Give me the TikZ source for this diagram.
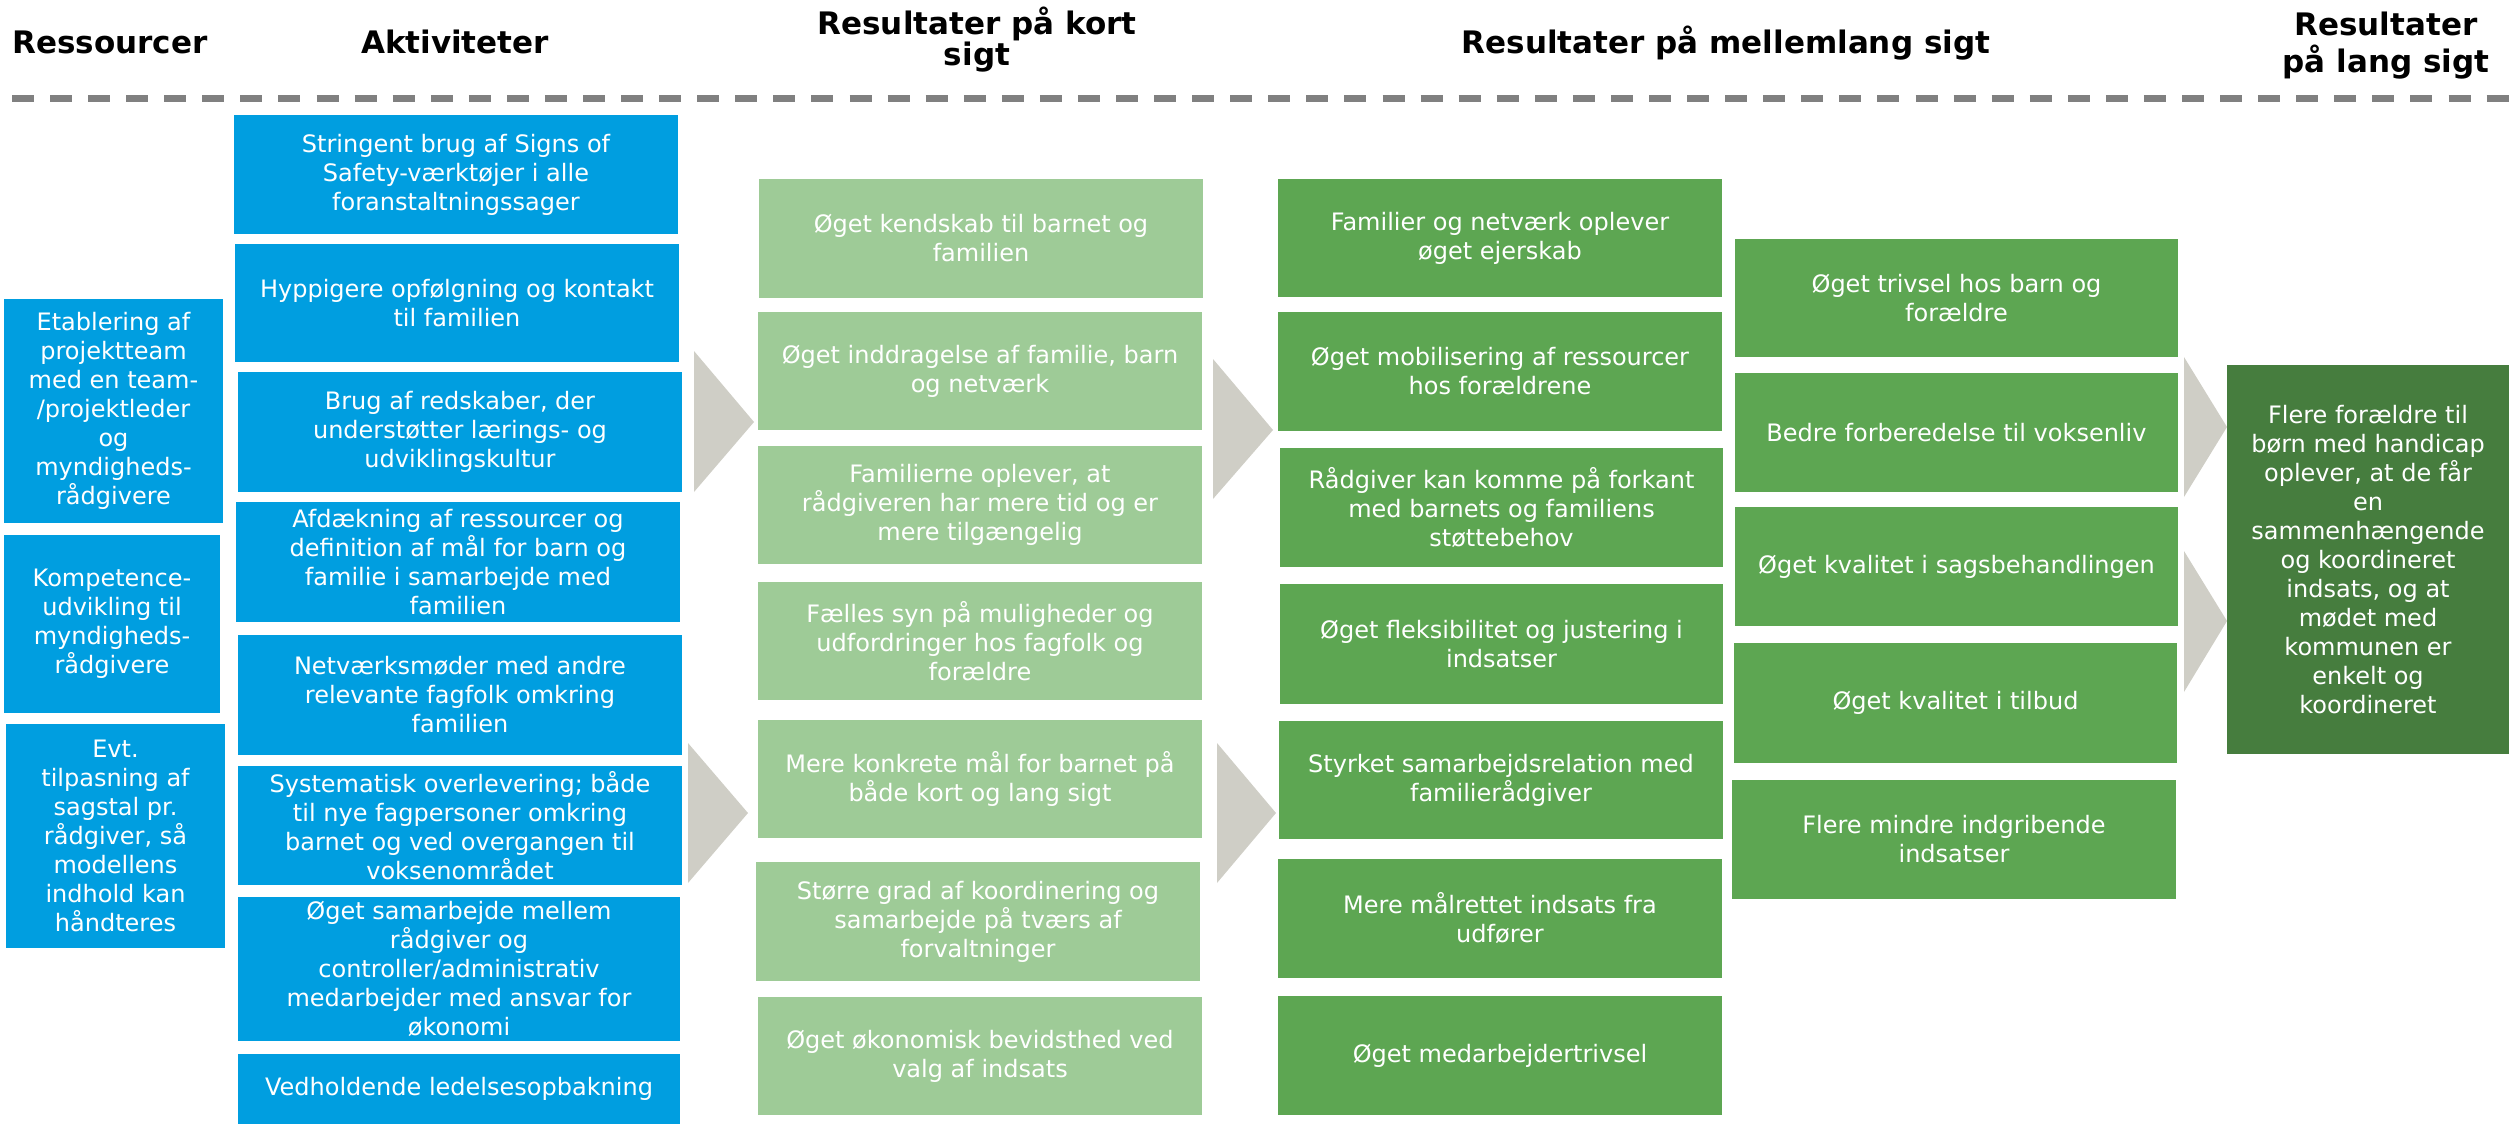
\documentclass[tikz,border=0pt]{standalone}
\usepackage{fontspec}
\setmainfont{DejaVu Sans}
\definecolor{cblue}{RGB}{0,158,224}
\definecolor{clight}{RGB}{158,203,151}
\definecolor{cmid}{RGB}{93,166,82}
\definecolor{cdark}{RGB}{70,125,62}
\definecolor{carrow}{RGB}{207,206,198}
\definecolor{cdash}{RGB}{128,128,128}
\tikzset{
  box/.style={rectangle, inner sep=0pt, text=white, align=center, font=\fontsize{24}{29}\selectfont},
  bluebox/.style={box, fill=cblue},
  lightbox/.style={box, fill=clight},
  midbox/.style={box, fill=cmid},
  darkbox/.style={box, fill=cdark},
  head/.style={font=\fontsize{31}{31}\selectfont\bfseries, align=center, inner sep=0pt, anchor=base},
  chev/.style={fill=carrow},
  sepline/.style={draw=cdash, line width=6.5pt, dash pattern=on 22pt off 16.07pt},
}
\newcommand\bx[7]{\node[#2, minimum width={(#5-#3)*1pt}, minimum height={(#6-#4)*1pt}] (#1) at ({(#3+#5)/2},{(#4+#6)/2}) {#7};}
\begin{document}
\begin{tikzpicture}[x=1pt,y=-1pt]
\useasboundingbox (0,0) rectangle (2509,1125);
% headers
\node[head] (h1) at (110,53) {Ressourcer};
\node[head] (h2) at (455,53) {Aktiviteter};
\node[head, font=\fontsize{31}{30}\selectfont\bfseries] (h3) at (977,65) {Resultater på kort\\sigt};
\node[head] (h4) at (1726,53) {Resultater på mellemlang sigt};
\node[head, font=\fontsize{31}{37}\selectfont\bfseries] (h5) at (2386,72) {Resultater\\på lang sigt};
\coordinate (d1) at (12,98.5);
\coordinate (d2) at (2509,98.5);
\draw[sepline] (d1) -- (d2);
% resources
\bx{r1}{bluebox}{4}{299}{223}{523}{Etablering af\\projektteam\\med en team-\\/projektleder\\og\\myndigheds-\\rådgivere}
\bx{r2}{bluebox}{4}{535}{220}{713}{Kompetence-\\udvikling til\\myndigheds-\\rådgivere}
\bx{r3}{bluebox}{6}{724}{225}{948}{Evt.\\tilpasning af\\sagstal pr.\\rådgiver, så\\modellens\\indhold kan\\håndteres}
% activities
\bx{a1}{bluebox}{234}{115}{678}{234}{Stringent brug af Signs of\\Safety-værktøjer i alle\\foranstaltningssager}
\bx{a2}{bluebox}{235}{244}{679}{362}{Hyppigere opfølgning og kontakt\\til familien}
\bx{a3}{bluebox}{238}{372}{682}{492}{Brug af redskaber, der\\understøtter lærings- og\\udviklingskultur}
\bx{a4}{bluebox}{236}{502}{680}{622}{Afdækning af ressourcer og\\definition af mål for barn og\\familie i samarbejde med\\familien}
\bx{a5}{bluebox}{238}{635}{682}{755}{Netværksmøder med andre\\relevante fagfolk omkring\\familien}
\bx{a6}{bluebox}{238}{766}{682}{885}{Systematisk overlevering; både\\til nye fagpersoner omkring\\barnet og ved overgangen til\\voksenområdet}
\bx{a7}{bluebox}{238}{897}{680}{1041}{Øget samarbejde mellem\\rådgiver og\\controller/administrativ\\medarbejder med ansvar for\\økonomi}
\bx{a8}{bluebox}{238}{1054}{680}{1124}{Vedholdende ledelsesopbakning}
% short term
\bx{s1}{lightbox}{759}{179}{1203}{298}{Øget kendskab til barnet og\\familien}
\bx{s2}{lightbox}{758}{312}{1202}{430}{Øget inddragelse af familie, barn\\og netværk}
\bx{s3}{lightbox}{758}{446}{1202}{564}{Familierne oplever, at\\rådgiveren har mere tid og er\\mere tilgængelig}
\bx{s4}{lightbox}{758}{582}{1202}{700}{Fælles syn på muligheder og\\udfordringer hos fagfolk og\\forældre}
\bx{s5}{lightbox}{758}{720}{1202}{838}{Mere konkrete mål for barnet på\\både kort og lang sigt}
\bx{s6}{lightbox}{756}{862}{1200}{981}{Større grad af koordinering og\\samarbejde på tværs af\\forvaltninger}
\bx{s7}{lightbox}{758}{997}{1202}{1115}{Øget økonomisk bevidsthed ved\\valg af indsats}
% medium term, column 1
\bx{m1}{midbox}{1278}{179}{1722}{297}{Familier og netværk oplever\\øget ejerskab}
\bx{m2}{midbox}{1278}{312}{1722}{431}{Øget mobilisering af ressourcer\\hos forældrene}
\bx{m3}{midbox}{1280}{448}{1723}{567}{Rådgiver kan komme på forkant\\med barnets og familiens\\støttebehov}
\bx{m4}{midbox}{1280}{584}{1723}{704}{Øget fleksibilitet og justering i\\indsatser}
\bx{m5}{midbox}{1279}{721}{1723}{839}{Styrket samarbejdsrelation med\\familierådgiver}
\bx{m6}{midbox}{1278}{859}{1722}{978}{Mere målrettet indsats fra\\udfører}
\bx{m7}{midbox}{1278}{996}{1722}{1115}{Øget medarbejdertrivsel}
% medium term, column 2
\bx{n1}{midbox}{1735}{239}{2178}{357}{Øget trivsel hos barn og\\forældre}
\bx{n2}{midbox}{1735}{373}{2178}{492}{Bedre forberedelse til voksenliv}
\bx{n3}{midbox}{1735}{507}{2178}{626}{Øget kvalitet i sagsbehandlingen}
\bx{n4}{midbox}{1734}{643}{2177}{763}{Øget kvalitet i tilbud}
\bx{n5}{midbox}{1732}{780}{2176}{899}{Flere mindre indgribende\\indsatser}
% long term
\bx{l1}{darkbox}{2227}{365}{2509}{754}{Flere forældre til\\børn med handicap\\oplever, at de får\\en\\sammenhængende\\og koordineret\\indsats, og at\\mødet med\\kommunen er\\enkelt og\\koordineret}
% chevrons
\fill[chev] (694,351) -- (754,422) -- (694,492) -- cycle;
\fill[chev] (688,743) -- (748,813) -- (688,883) -- cycle;
\fill[chev] (1213,359) -- (1273,430) -- (1213,499) -- cycle;
\fill[chev] (1217,743) -- (1276,813) -- (1217,883) -- cycle;
\fill[chev] (2184,357) -- (2227,427) -- (2184,497) -- cycle;
\fill[chev] (2184,551) -- (2227,621) -- (2184,692) -- cycle;
\end{tikzpicture}
\end{document}
